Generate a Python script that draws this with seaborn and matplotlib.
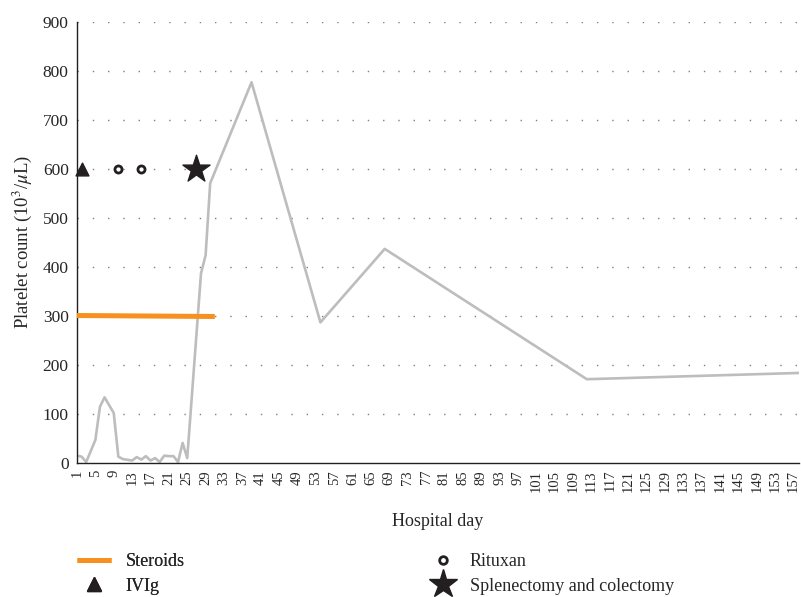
import numpy as np
import pandas as pd
import matplotlib
matplotlib.use('Agg')
import matplotlib.pyplot as plt
import seaborn as sns
from matplotlib.lines import Line2D

# Data
days = [1, 2, 3, 5, 6, 7, 9, 10, 11, 13, 14, 15, 16, 17, 18, 19, 20, 21, 22, 23,
        24, 25, 28, 29, 30, 39, 54, 68, 112, 159]
platelets = [15, 13, 2, 47, 115, 134, 102, 13, 8, 5, 12, 7, 14, 5, 10, 2, 15, 14, 14, 2,
             41, 10, 387, 424, 571, 777, 287, 437, 171, 184]

steroid_days = [1, 31]
steroid_level = [301, 299]

ivig_days = [2]
rituxan_days = [10, 15]
surgery_days = [27]
event_level = 600

tick_days = list(range(1, 158, 4))
y_ticks = list(range(0, 901, 100))

GREY = '#bdbdbd'
ORANGE = '#f7901e'
DARK = '#231f20'

df = pd.DataFrame({'day': days, 'platelets': platelets})
df_ster = pd.DataFrame({'day': steroid_days, 'level': steroid_level})

sns.set_style('white')
plt.rcParams['font.family'] = ['Liberation Serif', 'DejaVu Serif']
plt.rcParams['mathtext.fontset'] = 'stix'

fig = plt.figure(figsize=(8.01, 5.97), dpi=100)
ax = fig.add_axes([77 / 801, 1 - 463 / 597, 722 / 801, 441 / 597])

# dotted horizontal grid
for yv in y_ticks[1:]:
    ax.axhline(yv, color='#7f7f7f', linestyle=(0, (1, 10)), linewidth=1.0, zorder=0)

sns.lineplot(data=df, x='day', y='platelets', ax=ax, color=GREY, linewidth=1.9, zorder=2)
sns.lineplot(data=df_ster, x='day', y='level', ax=ax, color=ORANGE, linewidth=3.6,
             solid_capstyle='butt', zorder=3)

ax.scatter(ivig_days, [event_level] * len(ivig_days), marker='^', s=85, color=DARK,
           zorder=4, clip_on=False)
ax.scatter(rituxan_days, [event_level] * len(rituxan_days), marker='o', s=26,
           facecolor='white', edgecolor=DARK, linewidth=2.0, zorder=4)
ax.scatter(surgery_days, [event_level] * len(surgery_days), marker='*', s=420,
           color=DARK, zorder=4)

ax.set_xlim(1, 158.2)
ax.set_ylim(0, 900)
ax.set_xticks(tick_days)
ax.set_xticklabels([str(d) for d in tick_days], rotation=90, fontsize=10.5)
ax.set_yticks(y_ticks)
ax.set_yticklabels([str(v) for v in y_ticks], fontsize=12.5)
ax.tick_params(axis='x', length=3, color='#bfbfbf', pad=2)
ax.tick_params(axis='y', length=0, pad=6)

for s in ['top', 'right']:
    ax.spines[s].set_visible(False)
for s in ['left', 'bottom']:
    ax.spines[s].set_color(DARK)
    ax.spines[s].set_linewidth(1.0)

ax.set_xlabel('Hospital day', fontsize=13, labelpad=15)
ax.set_ylabel(r'Platelet count (10$^3$/$\mu$L)', fontsize=13.5, labelpad=6)

# legend below the chart, two columns
h_ster = Line2D([], [], color=ORANGE, linewidth=3.6, solid_capstyle='butt')
h_ivig = Line2D([], [], marker='^', linestyle='none', color=DARK, markersize=10)
h_rit = Line2D([], [], marker='o', linestyle='none', markerfacecolor='white',
               markeredgecolor=DARK, markeredgewidth=2.0, markersize=5.5)
h_surg = Line2D([], [], marker='*', linestyle='none', color=DARK, markersize=21)

leg1 = fig.legend([h_ster, h_ivig], ['Steroids', 'IVIg'], loc='upper left',
                  bbox_to_anchor=(68 / 801, 1 - 544 / 597), frameon=False, fontsize=13,
                  handlelength=1.9, handletextpad=0.8, labelspacing=0.42, borderpad=0)
leg2 = fig.legend([h_rit, h_surg], ['Rituxan', 'Splenectomy and colectomy'], loc='upper left',
                  bbox_to_anchor=(423 / 801, 1 - 544 / 597), frameon=False, fontsize=13,
                  handlelength=1.2, handletextpad=0.9, labelspacing=0.42, borderpad=0)
fig.add_artist(leg1)

plt.savefig('out.png', dpi=100)
plt.close()
